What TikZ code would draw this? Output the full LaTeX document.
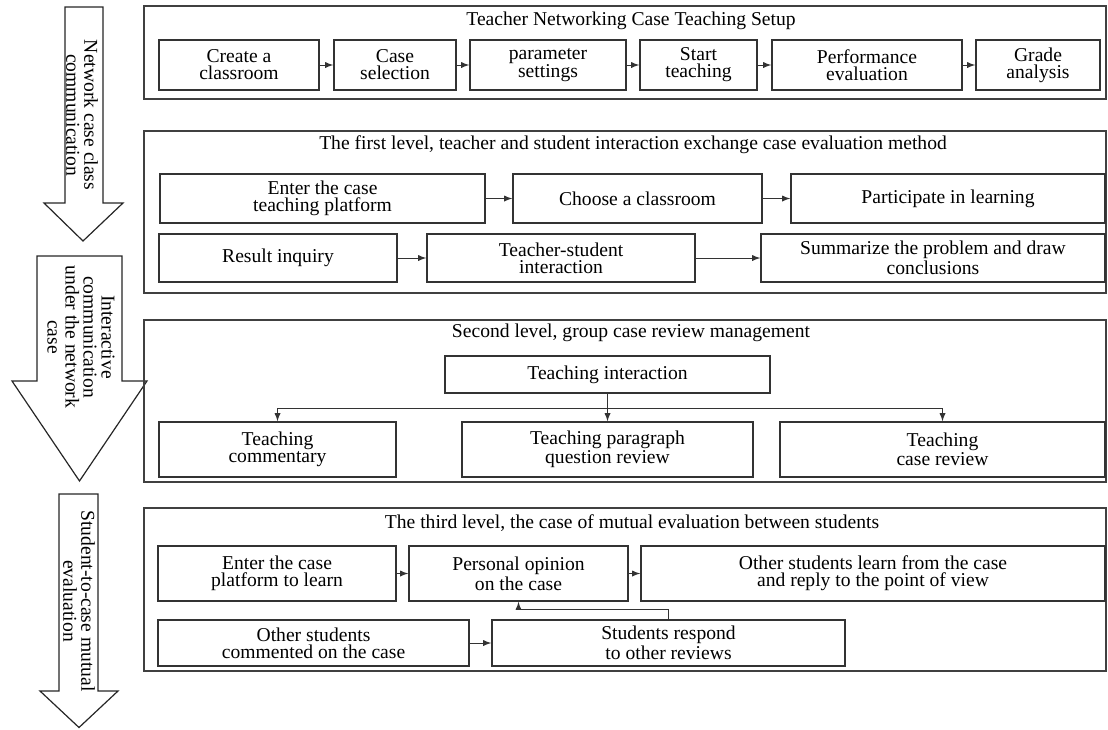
\documentclass[tikz,border=0pt]{standalone}
\usepackage{fontspec}
\setmainfont{Liberation Serif}
\usepackage{tikz}
\usetikzlibrary{calc}

\begin{document}
\begin{tikzpicture}[x=0.5pt, y=-0.5pt]
\tikzstyle{box}      = [rectangle, draw=black!80, line width=0.8pt, inner sep=0pt, align=center, font=\fontsize{9.8}{8.6}\selectfont]
\tikzstyle{panel}    = [rectangle, draw=black!75, line width=0.7pt, inner sep=0pt]
\tikzstyle{title}    = [inner sep=0pt, font=\fontsize{9.8}{8.6}\selectfont]
\tikzstyle{side}     = [rotate=-90, align=center, inner sep=0pt, font=\fontsize{9.8}{9}\selectfont]
\tikzstyle{flow}     = [-latex, line width=0.4pt, draw=black!80]
\tikzstyle{bigarrow} = [draw=black!85, line width=0.6pt, fill=white]
\useasboundingbox (0,0) rectangle (1108,729);
 %%Side arrows
\draw[bigarrow] (65,7) -- (103,7) -- (103,203) -- (123,203) -- (83,241) -- (44,203) -- (65,203) -- cycle;
\draw[bigarrow] (37,256) -- (122,256) -- (122,381) -- (147,381) -- (79.5,481) -- (12,381) -- (37,381) -- cycle;
\draw[bigarrow] (59,494) -- (98,494) -- (98,691) -- (118,691) -- (79,727.5) -- (40,691) -- (59,691) -- cycle;
\node[side](s1) at (82,115) {Network case class\\communication};
\node[side](s2) at (81,337) {Interactive\\communication\\under the network\\case};
\node[side](s3) at (79,601) {Student-to-case mutual\\evaluation};
 %%Panels
\node[panel, minimum width=481pt, minimum height=46.5pt](p1) at (625,52.5) {};
\node[panel, minimum width=481pt, minimum height=81pt](p2) at (625,212) {};
\node[panel, minimum width=481pt, minimum height=81pt](p3) at (625,401) {};
\node[panel, minimum width=481pt, minimum height=81.5pt](p4) at (625,589.5) {};
\node[title](t1) at (631,21) {Teacher Networking Case Teaching Setup};
\node[title](t2) at (633,145) {The first level, teacher and student interaction exchange case evaluation method};
\node[title](t3) at (631,333) {Second level, group case review management};
\node[title](t4) at (632,523) {The third level, the case of mutual evaluation between students};
 %%Setup
\node[box, minimum width=80pt, minimum height=25pt](create) at (239,65) {Create a\\classroom};
\node[box, minimum width=61pt, minimum height=25pt](select) at (395,65) {Case\\selection};
\node[box, minimum width=78pt, minimum height=25pt](param) at (548,65) {parameter\\settings};
\node[box, minimum width=58.5pt, minimum height=25pt](start) at (698.5,65) {Start\\teaching};
\node[box, minimum width=95pt, minimum height=25pt](perf) at (867,65) {Performance\\evaluation};
\node[box, minimum width=62pt, minimum height=25pt](grade) at (1038,65) {Grade\\analysis};
 %%First level
\node[box, minimum width=162.5pt, minimum height=24.5pt](enter) at (322.5,198.5) {Enter the case\\teaching platform};
\node[box, minimum width=124.5pt, minimum height=24.5pt](choose) at (637.5,198.5) {Choose a classroom};
\node[box, minimum width=157pt, minimum height=24.5pt](partic) at (948,198.5) {Participate in learning};
\node[box, minimum width=119pt, minimum height=24pt](result) at (278,258) {Result inquiry};
\node[box, minimum width=134pt, minimum height=24pt](interact) at (561,258) {Teacher-student\\interaction};
\node[box, minimum width=172pt, minimum height=24pt](summ) at (933,258) {Summarize the problem and draw\\conclusions};
 %%Second level
\node[box, minimum width=162.5pt, minimum height=18.5pt](tinter) at (607.5,374.5) {Teaching interaction};
\node[box, minimum width=118.5pt, minimum height=27.5pt](comment) at (277.5,449.5) {Teaching\\commentary};
\node[box, minimum width=145.5pt, minimum height=27.5pt](question) at (607.5,449.5) {Teaching paragraph\\question review};
\node[box, minimum width=162.5pt, minimum height=27.5pt](casrev) at (942.5,449.5) {Teaching\\case review};
\coordinate (fork) at (607.5,408);
 %%Third level
\node[box, minimum width=119pt, minimum height=27.5pt](plat) at (277,573.5) {Enter the case\\platform to learn};
\node[box, minimum width=109.5pt, minimum height=27.5pt](opinion) at (518.5,573.5) {Personal opinion\\on the case};
\node[box, minimum width=232pt, minimum height=27.5pt](reply) at (873,573.5) {Other students learn from the case\\and reply to the point of view};
\node[box, minimum width=155.5pt, minimum height=23pt](others) at (313.5,643) {Other students\\commented on the case};
\node[box, minimum width=176.5pt, minimum height=23pt](respond) at (668.5,643) {Students respond\\to other reviews};
 %%Edges
\draw[flow] (create)--(select);
\draw[flow] (select)--(param);
\draw[flow] (param)--(start);
\draw[flow] (start)--(perf);
\draw[flow] (perf)--(grade);
\draw[flow] (enter)--(choose);
\draw[flow] (choose)--(partic);
\draw[flow] (result)--(interact);
\draw[flow] (interact)--(summ);
\draw[flow] (tinter)--(question);
\draw[flow] (fork) -| (comment);
\draw[flow] (fork) -| (casrev);
\draw[flow] (plat)--(opinion);
\draw[flow] (opinion)--(reply);
\draw[flow] (others)--(respond);
\draw[flow] (respond.north) -- ++(0,-10) -| (opinion.south);
\end{tikzpicture}
\end{document}
